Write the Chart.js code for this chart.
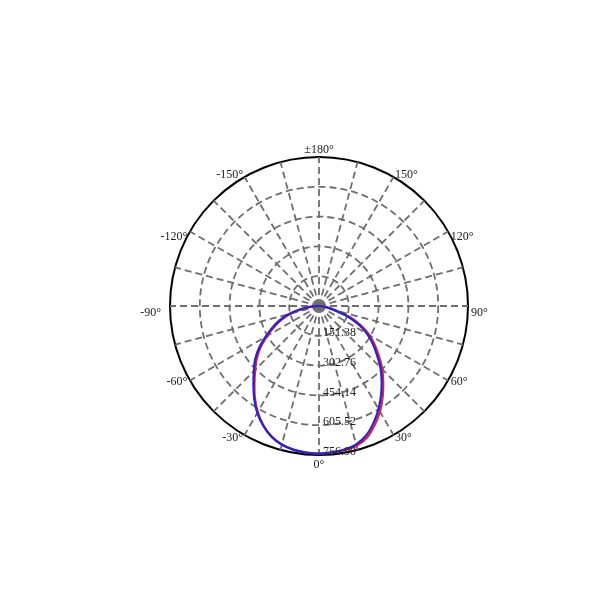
<!DOCTYPE html>
<html><head><meta charset="utf-8">
<script src="https://cdn.jsdelivr.net/npm/chart.js@4/dist/chart.umd.min.js"></script>
<style>html,body{margin:0;padding:0;background:#fff;}canvas{display:block;}</style>
</head><body>
<canvas id="c" width="600" height="600"></canvas>
<script>
// Measured angles (degrees, 0 = straight down, positive = to the right)
const measuredAngles = [-90,-85,-80,-75,-70,-65,-60,-55,-50,-45,-40,-35,-30,-25,-20,-15,-10,-5,0,5,10,15,20,25,30,35,40,45,50,55,60,65,70,75,80,85,90];
// Red plane
const redValues = [5,38,85,148,200,250,302,360,412,458,510,568,622,668,704,728,741,747,750,748,744,735,712,668,620,564,508,455,398,346,296,236,168,92,48,18,5];
// Blue plane
const blueValues = [10,45,95,160,214,263,314,372,424,468,518,574,627,671,707,730,742,748,750,746,740,728,700,655,605,550,495,441,383,333,282,222,155,81,40,15,5];
// Ring (tick) values and their labels
const ringValues = [151.38, 302.76, 454.14, 605.52, 756.90];
const ringLabels = ['151.38', '302.76', '454.14', '605.52', '756.90'];
const spokeLabelAngles = [0,-30,-60,-90,-120,-150,180,150,120,90,60,30];
const spokeLabelTexts = ['0°','-30°','-60°','-90°','-120°','-150°','±180°','150°','120°','90°','60°','30°'];

// categories around the circle (clockwise from bottom), every 5°
const categoryAngles = [];
for (let i = 0; i < 72; i++) { let a = -5 * i; if (a < -180) a += 360; if (a === -180) a = 180; categoryAngles.push(a); }
const categoryLabels = categoryAngles.map(a => { const k = spokeLabelAngles.indexOf(a); return k >= 0 ? spokeLabelTexts[k] : ''; });
function seriesFor(vals) { return categoryAngles.map(a => { const k = measuredAngles.indexOf(a); return k >= 0 ? vals[k] : 0; }); }

const FONT = '12px "Liberation Serif", "Times New Roman", serif';

const labelPlugin = {
  id: 'polarLabels',
  afterDatasetsDraw(chart) {
    const s = chart.scales.r, ctx = chart.ctx;
    ctx.save();
    ctx.font = FONT;
    ctx.fillStyle = '#222';
    // ring value labels along the 0° spoke
    ctx.textAlign = 'left';
    ctx.textBaseline = 'middle';
    ringValues.forEach((v, i) => {
      const p = s.getPointPosition(0, s.getDistanceFromCenterForValue(v));
      ctx.fillText(ringLabels[i], p.x + 4, p.y - 3);
    });
    // spoke angle labels around the rim
    spokeLabelAngles.forEach((a, k) => {
      const idx = categoryAngles.indexOf(a);
      const p = s.getPointPosition(idx, s.drawingArea + 3);
      const abs = Math.abs(a);
      let dx = 0, dy = (abs === 90 || abs === 120) ? 6.5 : 0;
      if (a === -90) dx = -6;
      if (a === 180) { ctx.textAlign = 'center'; ctx.textBaseline = 'bottom'; dy = 2; }
      else if (a === 0) { ctx.textAlign = 'center'; ctx.textBaseline = 'top'; dy = 1; }
      else if (a > 0) { ctx.textAlign = 'left'; ctx.textBaseline = 'middle'; }
      else { ctx.textAlign = 'right'; ctx.textBaseline = 'middle'; }
      ctx.fillText(spokeLabelTexts[k], p.x + dx, p.y + dy);
    });
    ctx.restore();
  }
};

new Chart(document.getElementById('c'), {
  type: 'radar',
  data: {
    labels: categoryLabels,
    datasets: [
      { data: seriesFor(blueValues), borderColor: '#2323d8', borderWidth: 2.2, pointRadius: 0, fill: false, tension: 0.2, order: 0 },
      { data: seriesFor(redValues), borderColor: '#e0203c', borderWidth: 2.2, pointRadius: 0, fill: false, tension: 0.2, order: 1 }
    ]
  },
  options: {
    responsive: false,
    animation: false,
    events: [],
    layout: { padding: { left: 170, right: 132, top: 157, bottom: 145 } },
    plugins: { legend: { display: false }, tooltip: { enabled: false } },
    scales: {
      r: {
        min: 0, max: 756.9,
        startAngle: 180,
        afterBuildTicks: s => { s.ticks = [0].concat(ringValues).map(v => ({ value: v })); },
        ticks: { display: false },
        grid: {
          circular: true,
          color: c => c.index === ringValues.length ? '#000' : '#6e6e6e',
          lineWidth: c => c.index === ringValues.length ? 2 : 1.8
        },
        border: { dash: c => c.index === ringValues.length ? [] : [7, 4] },
        angleLines: {
          color: '#6e6e6e',
          lineWidth: c => (categoryAngles[c.index] % 15 === 0) ? 1.8 : 0,
          borderDash: [7, 4]
        },
        pointLabels: { display: false }
      }
    }
  },
  plugins: [labelPlugin]
});
</script>
</body></html>
